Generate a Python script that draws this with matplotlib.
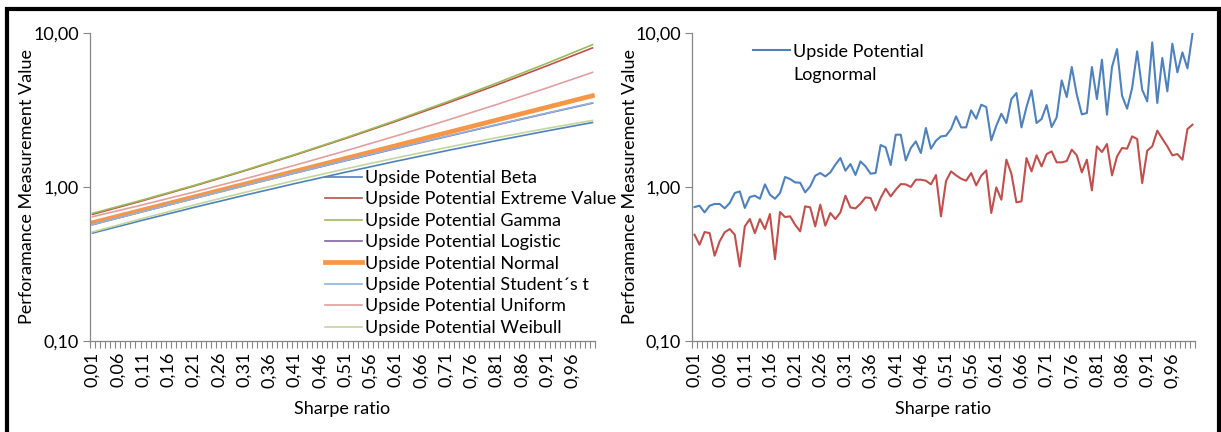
import numpy as np
import matplotlib
matplotlib.use("Agg")
import matplotlib.pyplot as plt
from matplotlib.patches import Rectangle

plt.rcParams['font.family'] = ['Lato', 'DejaVu Sans']

# Sharpe ratio categories 0,01 ... 1,00
sharpe = np.round(np.arange(1, 101) * 0.01, 2)
sharpe_labels = ["0,01", "0,06", "0,11", "0,16", "0,21", "0,26", "0,31", "0,36", "0,41", "0,46",
                 "0,51", "0,56", "0,61", "0,66", "0,71", "0,76", "0,81", "0,86", "0,91", "0,96"]
label_pos = [0.01, 0.06, 0.11, 0.16, 0.21, 0.26, 0.31, 0.36, 0.41, 0.46,
             0.51, 0.56, 0.61, 0.66, 0.71, 0.76, 0.81, 0.86, 0.91, 0.96]

up_beta = [0.502, 0.512, 0.522, 0.532, 0.543, 0.553, 0.564, 0.575, 0.586, 0.598,
           0.610, 0.621, 0.633, 0.645, 0.657, 0.670, 0.682, 0.695, 0.708, 0.722,
           0.736, 0.749, 0.763, 0.777, 0.791, 0.805, 0.820, 0.835, 0.851, 0.866,
           0.882, 0.898, 0.913, 0.930, 0.946, 0.963, 0.980, 0.997, 1.015, 1.033,
           1.052, 1.069, 1.088, 1.106, 1.125, 1.145, 1.164, 1.184, 1.204, 1.225,
           1.246, 1.266, 1.287, 1.309, 1.330, 1.352, 1.375, 1.397, 1.420, 1.444,
           1.468, 1.491, 1.514, 1.539, 1.563, 1.588, 1.613, 1.639, 1.665, 1.691,
           1.718, 1.745, 1.771, 1.798, 1.826, 1.854, 1.882, 1.911, 1.940, 1.970,
           2.000, 2.029, 2.059, 2.089, 2.120, 2.151, 2.183, 2.215, 2.247, 2.280,
           2.313, 2.346, 2.379, 2.412, 2.446, 2.481, 2.516, 2.551, 2.587, 2.623]
up_extreme = [0.664, 0.678, 0.692, 0.706, 0.721, 0.736, 0.751, 0.767, 0.783, 0.799,
              0.816, 0.834, 0.852, 0.871, 0.890, 0.909, 0.929, 0.950, 0.970, 0.992,
              1.013, 1.036, 1.060, 1.084, 1.109, 1.135, 1.161, 1.187, 1.214, 1.242,
              1.271, 1.301, 1.332, 1.364, 1.397, 1.430, 1.465, 1.500, 1.536, 1.572,
              1.610, 1.650, 1.691, 1.734, 1.777, 1.821, 1.867, 1.914, 1.962, 2.011,
              2.061, 2.115, 2.170, 2.226, 2.284, 2.344, 2.405, 2.467, 2.531, 2.597,
              2.666, 2.738, 2.812, 2.888, 2.966, 3.046, 3.129, 3.214, 3.301, 3.390,
              3.481, 3.579, 3.679, 3.783, 3.889, 3.998, 4.110, 4.226, 4.345, 4.467,
              4.593, 4.727, 4.865, 5.007, 5.153, 5.303, 5.457, 5.616, 5.780, 5.949,
              6.124, 6.308, 6.499, 6.695, 6.897, 7.106, 7.320, 7.542, 7.769, 8.004]
up_gamma = [0.675, 0.688, 0.702, 0.717, 0.731, 0.746, 0.761, 0.777, 0.792, 0.809,
            0.825, 0.843, 0.861, 0.880, 0.899, 0.918, 0.938, 0.958, 0.979, 1.000,
            1.021, 1.044, 1.068, 1.093, 1.118, 1.143, 1.169, 1.196, 1.223, 1.251,
            1.279, 1.310, 1.342, 1.374, 1.407, 1.440, 1.475, 1.510, 1.547, 1.584,
            1.622, 1.663, 1.705, 1.748, 1.792, 1.837, 1.884, 1.931, 1.980, 2.030,
            2.081, 2.136, 2.193, 2.251, 2.310, 2.372, 2.434, 2.499, 2.565, 2.633,
            2.703, 2.778, 2.855, 2.934, 3.015, 3.098, 3.184, 3.272, 3.363, 3.456,
            3.551, 3.654, 3.760, 3.869, 3.980, 4.096, 4.214, 4.336, 4.462, 4.591,
            4.724, 4.866, 5.013, 5.164, 5.320, 5.480, 5.646, 5.816, 5.991, 6.171,
            6.358, 6.557, 6.763, 6.975, 7.194, 7.420, 7.653, 7.894, 8.141, 8.396]
up_logistic = [0.569, 0.580, 0.592, 0.604, 0.616, 0.628, 0.640, 0.653, 0.666, 0.679,
               0.693, 0.706, 0.720, 0.734, 0.748, 0.763, 0.778, 0.793, 0.809, 0.825,
               0.841, 0.857, 0.874, 0.890, 0.908, 0.925, 0.943, 0.961, 0.980, 0.999,
               1.018, 1.037, 1.057, 1.077, 1.098, 1.118, 1.140, 1.161, 1.183, 1.206,
               1.229, 1.251, 1.275, 1.299, 1.323, 1.348, 1.373, 1.399, 1.425, 1.451,
               1.479, 1.506, 1.533, 1.561, 1.590, 1.619, 1.649, 1.679, 1.710, 1.742,
               1.774, 1.806, 1.839, 1.872, 1.906, 1.940, 1.975, 2.011, 2.047, 2.084,
               2.121, 2.159, 2.197, 2.236, 2.276, 2.317, 2.358, 2.400, 2.442, 2.485,
               2.529, 2.574, 2.619, 2.664, 2.711, 2.758, 2.806, 2.856, 2.905, 2.956,
               3.008, 3.060, 3.112, 3.166, 3.220, 3.275, 3.331, 3.388, 3.446, 3.505]
up_normal = [0.586, 0.597, 0.609, 0.621, 0.633, 0.645, 0.658, 0.670, 0.683, 0.697,
             0.710, 0.724, 0.738, 0.752, 0.767, 0.781, 0.797, 0.812, 0.828, 0.844,
             0.860, 0.877, 0.894, 0.911, 0.929, 0.947, 0.965, 0.984, 1.003, 1.022,
             1.042, 1.062, 1.083, 1.104, 1.125, 1.147, 1.169, 1.192, 1.215, 1.239,
             1.262, 1.287, 1.312, 1.337, 1.363, 1.389, 1.416, 1.444, 1.472, 1.500,
             1.529, 1.559, 1.589, 1.620, 1.651, 1.683, 1.716, 1.749, 1.783, 1.817,
             1.853, 1.889, 1.925, 1.962, 2.001, 2.039, 2.079, 2.119, 2.160, 2.202,
             2.244, 2.288, 2.332, 2.377, 2.423, 2.470, 2.518, 2.567, 2.617, 2.667,
             2.719, 2.772, 2.825, 2.880, 2.936, 2.993, 3.051, 3.110, 3.170, 3.231,
             3.293, 3.357, 3.422, 3.488, 3.556, 3.625, 3.695, 3.767, 3.840, 3.914]
up_student = [0.572, 0.583, 0.595, 0.607, 0.619, 0.631, 0.643, 0.656, 0.669, 0.682,
              0.696, 0.709, 0.723, 0.737, 0.752, 0.767, 0.782, 0.797, 0.813, 0.829,
              0.845, 0.861, 0.878, 0.894, 0.912, 0.929, 0.947, 0.966, 0.985, 1.004,
              1.023, 1.042, 1.062, 1.082, 1.103, 1.124, 1.146, 1.167, 1.189, 1.212,
              1.235, 1.257, 1.281, 1.305, 1.330, 1.355, 1.380, 1.406, 1.432, 1.458,
              1.486, 1.513, 1.541, 1.569, 1.598, 1.627, 1.657, 1.687, 1.719, 1.751,
              1.783, 1.815, 1.848, 1.881, 1.916, 1.950, 1.985, 2.021, 2.057, 2.094,
              2.132, 2.170, 2.208, 2.247, 2.287, 2.329, 2.370, 2.412, 2.454, 2.497,
              2.542, 2.587, 2.632, 2.677, 2.725, 2.772, 2.820, 2.870, 2.920, 2.971,
              3.023, 3.075, 3.128, 3.182, 3.236, 3.291, 3.348, 3.405, 3.463, 3.523]
up_uniform = [0.641, 0.653, 0.665, 0.677, 0.689, 0.701, 0.714, 0.727, 0.740, 0.753,
              0.767, 0.782, 0.796, 0.812, 0.827, 0.843, 0.859, 0.875, 0.892, 0.909,
              0.925, 0.944, 0.962, 0.981, 1.001, 1.021, 1.041, 1.062, 1.083, 1.104,
              1.126, 1.150, 1.173, 1.198, 1.223, 1.248, 1.274, 1.300, 1.327, 1.355,
              1.383, 1.413, 1.443, 1.475, 1.507, 1.539, 1.573, 1.607, 1.641, 1.677,
              1.713, 1.752, 1.791, 1.832, 1.873, 1.915, 1.958, 2.002, 2.047, 2.093,
              2.141, 2.191, 2.242, 2.295, 2.348, 2.403, 2.460, 2.517, 2.576, 2.637,
              2.699, 2.764, 2.832, 2.900, 2.971, 3.043, 3.117, 3.193, 3.270, 3.350,
              3.430, 3.517, 3.606, 3.697, 3.790, 3.885, 3.983, 4.084, 4.187, 4.293,
              4.401, 4.516, 4.634, 4.755, 4.879, 5.006, 5.137, 5.271, 5.408, 5.549]
up_weibull = [0.511, 0.521, 0.532, 0.543, 0.554, 0.565, 0.577, 0.589, 0.601, 0.614,
              0.626, 0.639, 0.651, 0.664, 0.677, 0.691, 0.705, 0.719, 0.733, 0.747,
              0.762, 0.777, 0.792, 0.807, 0.822, 0.838, 0.854, 0.870, 0.886, 0.903,
              0.920, 0.937, 0.954, 0.971, 0.989, 1.007, 1.025, 1.044, 1.063, 1.082,
              1.102, 1.121, 1.141, 1.161, 1.181, 1.201, 1.222, 1.243, 1.265, 1.287,
              1.309, 1.331, 1.353, 1.375, 1.398, 1.421, 1.445, 1.468, 1.493, 1.517,
              1.543, 1.567, 1.592, 1.617, 1.642, 1.668, 1.694, 1.721, 1.748, 1.776,
              1.803, 1.830, 1.857, 1.885, 1.913, 1.941, 1.970, 2.000, 2.029, 2.060,
              2.090, 2.120, 2.150, 2.180, 2.210, 2.241, 2.273, 2.305, 2.337, 2.370,
              2.403, 2.435, 2.467, 2.500, 2.533, 2.567, 2.601, 2.635, 2.670, 2.706]

up_lognormal = [0.741, 0.756, 0.684, 0.756, 0.776, 0.776, 0.727, 0.787, 0.914, 0.936,
                0.731, 0.861, 0.878, 0.839, 1.040, 0.891, 0.839, 0.914, 1.161, 1.127,
                1.071, 1.066, 0.923, 1.009, 1.184, 1.233, 1.172, 1.244, 1.396, 1.543,
                1.276, 1.409, 1.197, 1.466, 1.361, 1.220, 1.233, 1.874, 1.808, 1.389,
                2.186, 2.186, 1.488, 1.792, 1.977, 1.663, 2.416, 1.773, 1.998, 2.131,
                2.153, 2.379, 2.875, 2.439, 2.439, 3.145, 2.777, 3.422, 3.306, 2.008,
                2.500, 2.992, 2.603, 3.726, 4.075, 2.439, 3.306, 4.241, 2.603, 2.763,
                3.406, 2.452, 2.833, 4.924, 3.839, 6.012, 3.974, 2.962, 3.022, 6.012,
                3.726, 6.708, 2.948, 6.012, 7.868, 3.915, 3.225, 4.391, 7.598, 4.283,
                3.597, 8.694, 3.509, 6.878, 4.178, 8.522, 5.551, 7.485, 5.892, 9.900]
second_series = [0.490, 0.422, 0.510, 0.502, 0.358, 0.444, 0.508, 0.533, 0.490, 0.305,
                 0.555, 0.619, 0.502, 0.619, 0.533, 0.668, 0.340, 0.688, 0.638, 0.645,
                 0.569, 0.515, 0.749, 0.737, 0.555, 0.768, 0.561, 0.678, 0.619, 0.684,
                 0.878, 0.737, 0.726, 0.779, 0.856, 0.848, 0.705, 0.848, 0.975, 0.869,
                 0.960, 1.045, 1.040, 1.000, 1.115, 1.115, 1.099, 1.040, 1.196, 0.645,
                 1.093, 1.263, 1.190, 1.132, 1.099, 1.232, 1.025, 1.184, 1.282, 0.678,
                 0.994, 0.827, 1.504, 1.220, 0.795, 0.807, 1.542, 1.263, 1.605, 1.361,
                 1.637, 1.703, 1.445, 1.445, 1.474, 1.747, 1.605, 1.245, 1.504, 0.951,
                 1.836, 1.687, 1.901, 1.190, 1.580, 1.791, 1.773, 2.132, 2.049, 1.061,
                 1.721, 1.836, 2.321, 2.059, 1.836, 1.605, 1.637, 1.504, 2.379, 2.538]

left_series = [
    ("Upside Potential Beta", up_beta, "#4F81BD", 1.2),
    ("Upside Potential Extreme Value", up_extreme, "#C0504D", 1.2),
    ("Upside Potential Gamma", up_gamma, "#9BBB59", 1.2),
    ("Upside Potential Logistic", up_logistic, "#8064A2", 1.2),
    ("Upside Potential Normal", up_normal, "#F79646", 3.4),
    ("Upside Potential Student\u00b4s t", up_student, "#8DB3E2", 1.2),
    ("Upside Potential Uniform", up_uniform, "#E0A09E", 1.2),
    ("Upside Potential Weibull", up_weibull, "#C3D69B", 1.2),
]

W, H = 1221, 432
fig = plt.figure(figsize=(W / 100, H / 100), dpi=100)
ax1 = fig.add_axes([90 / W, 1 - 341 / H, 505 / W, 308 / H])
ax2 = fig.add_axes([692 / W, 1 - 341 / H, 503 / W, 308 / H])

grey = "#868686"
fs = 13


def style_axis(ax):
    ax.set_yscale("log")
    ax.set_ylim(0.1, 10)
    ax.set_xlim(0.005, 1.005)
    ax.set_yticks([0.1, 1, 10])
    ax.set_yticklabels(["0,10", "1,00", "10,00"])
    ax.yaxis.set_minor_locator(plt.NullLocator())
    ax.set_xticks(label_pos)
    ax.set_xticklabels(sharpe_labels, rotation=90)
    ax.set_xticks(np.arange(0.005, 1.006, 0.01), minor=True)
    ax.tick_params(axis="x", which="major", length=0, pad=8, labelsize=fs)
    ax.tick_params(axis="x", which="minor", length=5, color=grey, width=0.8)
    ax.tick_params(axis="y", which="major", length=5, color=grey, width=0.8, labelsize=fs, pad=3)
    for s in ["top", "right"]:
        ax.spines[s].set_visible(False)
    for s in ["left", "bottom"]:
        ax.spines[s].set_color(grey)
        ax.spines[s].set_linewidth(0.9)
    ax.set_xlabel("Sharpe ratio", fontsize=fs)
    ax.set_ylabel("Perforamance Measurement Value", fontsize=fs)
    ax.xaxis.set_label_coords(0.5, -0.195)
    ax.yaxis.set_label_coords(-0.108, 0.5)


for label, vals, color, lw in left_series:
    ax1.plot(sharpe, vals, color=color, lw=lw, label=label)
style_axis(ax1)
ax1.legend(loc="upper left", bbox_to_anchor=(325 / W, 1 - 170 / H), bbox_transform=fig.transFigure,
           frameon=False, fontsize=fs, handlelength=2.05, handletextpad=0.15, borderpad=0,
           borderaxespad=0, labelspacing=0.3)

ax2.plot(sharpe, up_lognormal, color="#4F81BD", lw=1.5, label="Upside Potential")
ax2.plot(sharpe, second_series, color="#C0504D", lw=1.5)
style_axis(ax2)
ax2.legend(loc="upper left", bbox_to_anchor=(753 / W, 1 - 43.7 / H), bbox_transform=fig.transFigure,
           frameon=False, fontsize=fs, handlelength=2.05, handletextpad=0.15, borderpad=0,
           borderaxespad=0)
fig.text(793 / W, 1 - 75 / H, "Lognormal", fontsize=fs, va="center", ha="left")

# outer black frame
fig.patches.append(Rectangle((7 / W, -0.1), 1212 / W, 1.1 - 9.5 / H, transform=fig.transFigure,
                             fill=False, edgecolor="black", linewidth=3, clip_on=False))

fig.savefig("out.png", dpi=100)
